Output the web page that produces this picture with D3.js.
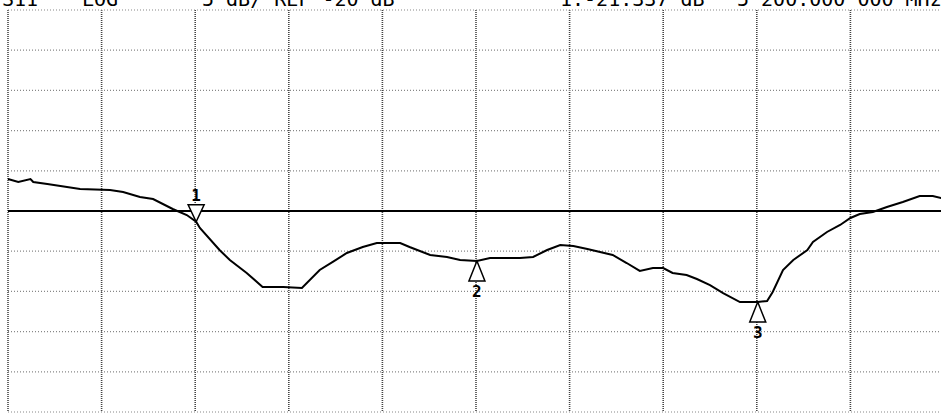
<!DOCTYPE html>
<html>
<head>
<meta charset="utf-8">
<script src="https://cdn.jsdelivr.net/npm/d3@7"></script>
<style>
  body { margin: 0; background: #fff; }
  svg { display: block; }
  text { font-family: "DejaVu Sans Mono", "Liberation Mono", monospace; }
</style>
</head>
<body>
<script>
// header readouts
var headerItems = ["S11", "LOG", "5 dB/ REF -20 dB", "1:-21.337 dB", "5 200.000 000 MHz"];

// trace, x in grid divisions (0..10), y in dB
var traceX = [0.00, 0.11, 0.24, 0.27, 0.42, 0.77, 1.09, 1.23, 1.41, 1.55, 1.76, 1.91, 2.01, 2.05,
  2.26, 2.37, 2.55, 2.72, 2.94, 3.14, 3.33, 3.47, 3.62, 3.79, 3.94, 4.19, 4.29, 4.51, 4.69, 4.83,
  5.01, 5.15, 5.47, 5.61, 5.76, 5.90, 6.04, 6.19, 6.46, 6.61, 6.75, 6.89, 7.00, 7.10, 7.25, 7.36,
  7.50, 7.64, 7.82, 8.01, 8.11, 8.17, 8.28, 8.39, 8.54, 8.60, 8.75, 8.89, 9.00, 9.10, 9.24, 9.39,
  9.56, 9.74, 9.88, 9.97];
var traceDb = [-16.02, -16.39, -16.02, -16.39, -16.64, -17.26, -17.39, -17.64, -18.26, -18.51, -19.75,
  -20.50, -21.34, -22.11, -24.85, -26.10, -27.71, -29.45, -29.45, -29.58, -27.34, -26.34, -25.22,
  -24.48, -23.98, -23.98, -24.48, -25.47, -25.72, -26.10, -26.22, -25.85, -25.85, -25.72, -24.85,
  -24.23, -24.35, -24.73, -25.47, -26.47, -27.46, -27.09, -27.09, -27.71, -27.96, -28.46, -29.21,
  -30.20, -31.32, -31.32, -31.20, -30.08, -27.34, -26.10, -24.85, -23.86, -22.61, -21.74, -20.87,
  -20.37, -20.12, -19.50, -18.88, -18.13, -18.13, -18.38];

// markers
var markerNames = ["1", "2", "3"];
var markerX = [2.01, 5.01, 8.01];
var markerDb = [-21.34, -26.22, -31.32];

var refLevel = -20;
var dbPerDiv = 5;

var w = 941, h = 415;
var svg = d3.select("body").append("svg").attr("width", w).attr("height", h);

var x = d3.scaleLinear().domain([0, 10]).range([8, 944]);
var y = d3.scaleLinear()
  .domain([refLevel - 5 * dbPerDiv, refLevel + 5 * dbPerDiv])
  .range([412, 10]);

// grid
svg.append("g").selectAll("line")
  .data(d3.range(0, 11))
  .enter().append("line")
  .attr("x1", d => x(d)).attr("x2", d => x(d))
  .attr("y1", y.range()[1]).attr("y2", y.range()[0])
  .attr("stroke", "#444").attr("stroke-width", 1.6)
  .attr("stroke-dasharray", "1,1");

svg.append("g").selectAll("line")
  .data(d3.range(0, 11).map(i => y.domain()[0] + i * dbPerDiv))
  .enter().append("line")
  .attr("x1", x(0)).attr("x2", x(10))
  .attr("y1", d => y(d)).attr("y2", d => y(d))
  .attr("stroke", "#888").attr("stroke-width", 1.2)
  .attr("stroke-dasharray", "1,2");

// reference line
svg.append("line")
  .attr("x1", x(0)).attr("x2", w)
  .attr("y1", y(refLevel)).attr("y2", y(refLevel))
  .attr("stroke", "#000").attr("stroke-width", 2);

// trace
var line = d3.line().x(d => x(d[0])).y(d => y(d[1]));
svg.append("path")
  .datum(traceX.map((v, i) => [v, traceDb[i]]))
  .attr("d", line)
  .attr("fill", "none")
  .attr("stroke", "#000")
  .attr("stroke-width", 2);

// markers
markerNames.forEach(function (name, i) {
  var mx = x(markerX[i]), my = y(markerDb[i]);
  var g = svg.append("g");
  if (i === 0) {
    g.append("path")
      .attr("d", "M" + (mx - 8) + "," + (my - 17) + "L" + (mx + 8) + "," + (my - 17) + "L" + mx + "," + my + "Z")
      .attr("fill", "#fff").attr("stroke", "#000").attr("stroke-width", 1.5);
    g.append("text").attr("x", mx).attr("y", my - 21)
      .attr("text-anchor", "middle").attr("font-size", 16).attr("font-weight", "bold")
      .text(name);
  } else {
    g.append("path")
      .attr("d", "M" + mx + "," + my + "L" + (mx + 8) + "," + (my + 20) + "L" + (mx - 8) + "," + (my + 20) + "Z")
      .attr("fill", "#fff").attr("stroke", "#000").attr("stroke-width", 1.5);
    g.append("text").attr("x", mx).attr("y", my + 36)
      .attr("text-anchor", "middle").attr("font-size", 16).attr("font-weight", "bold")
      .text(name);
  }
});

// header text (top partly cut off, as in the screen photo)
var headerPos = [2, 82, 202, 560, 737];
svg.append("g").selectAll("text")
  .data(headerItems)
  .enter().append("text")
  .attr("x", (d, i) => headerPos[i])
  .attr("y", 6)
  .attr("font-size", 20)
  .attr("fill", "#000")
  .text(d => d);
</script>
</body>
</html>
